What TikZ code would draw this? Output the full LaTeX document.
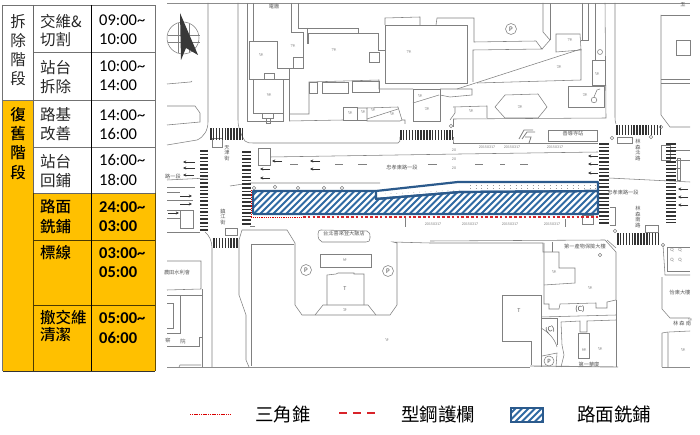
\documentclass[tikz,border=0pt]{standalone}
\usepackage{fontspec}
\setmainfont{Carlito}
\newfontfamily\cjk{Noto Sans CJK TC}
\newfontfamily\cjkm{Noto Sans CJK TC Medium}
\usetikzlibrary{arrows.meta}
\definecolor{orng}{HTML}{FFC000}
\definecolor{mapline}{HTML}{808080}
\definecolor{hatchblue}{HTML}{2F6AA3}
\definecolor{edgeblue}{HTML}{2B5A8C}
\definecolor{redline}{HTML}{D8232A}
\tikzset{
  ml/.style={draw=mapline,line width=.55pt},
  mt/.style={text=black!65,inner sep=0pt,font=\cjk\fontsize{5.2}{5.6}\selectfont},
  tn/.style={text=black!50,inner sep=0pt,font=\fontsize{4}{4}\selectfont},
  cjkcell/.style={anchor=west,inner sep=0pt,text=black!85,font=\cjk\fontsize{15.5}{15.5}\selectfont},
  cjkbold/.style={anchor=west,inner sep=0pt,font=\cjkm\fontsize{15.5}{15.5}\selectfont},
  stackcell/.style={inner sep=0pt,text=black!85,font=\cjk\fontsize{15.5}{15.5}\selectfont},
  stackbold/.style={inner sep=0pt,font=\cjkm\fontsize{15.5}{15.5}\selectfont},
  timecell/.style={anchor=west,inner sep=0pt,font=\fontsize{16.5}{16.5}\selectfont},
  timebold/.style={anchor=west,inner sep=0pt,font=\bfseries\fontsize{16.5}{16.5}\selectfont},
  legendtext/.style={inner sep=0pt,font=\cjk\fontsize{18.5}{18.5}\selectfont},
  larrow/.style={draw=black!80,line width=.7pt,-{Stealth[length=3.2pt,width=3pt]}},
}
\newcommand{\vbars}[4]{\draw[black!80,line width=#4-#3,dash pattern=on 1.5pt off 1.4pt] (#1,{(#3+#4)/2})--(#2,{(#3+#4)/2});}
\newcommand{\hbarsx}[4]{\draw[black!80,line width=#2-#1,dash pattern=on 1.7pt off 1.9pt] ({(#1+#2)/2},#3)--({(#1+#2)/2},#4);}
\begin{document}
\begin{tikzpicture}[x=1pt,y=-1pt]
\useasboundingbox (0,0) rectangle (700,435);
\fill[white] (0,0) rectangle (700,435);

%% ---------- table
\fill[orng] (2.5,100.5) rectangle (33,371);
\fill[orng] (33,193) rectangle (155,371);
\draw[black!55,line width=.8pt] (2.5,5)--(155,5)--(155,193);
\draw[black!55,line width=.8pt] (2.5,5)--(2.5,371);
\draw[black!55,line width=.8pt] (33,52)--(155,52);
\draw[black!55,line width=.8pt] (2.5,100.5)--(155,100.5);
\draw[black!55,line width=.8pt] (33,147)--(155,147);
\draw[black!60,line width=.8pt] (33,193)--(155,193);
\draw[black!60,line width=.8pt] (33,5)--(33,193);
\draw[black!70!orng,line width=.8pt] (33,193)--(33,371);
\draw[black!70!orng,line width=.8pt] (33,240)--(155,240);
\draw[black!70!orng,line width=.8pt] (33,305)--(155,305);
\draw[black,line width=.9pt] (91,5)--(91,371);
\draw[black!80,line width=.9pt] (2.5,371)--(155,371);
\draw[black!60!orng,line width=.6pt] (155,193)--(155,371);

\foreach \c/\y in {拆/22,除/41,階/60,段/79} \node[stackcell] at (18,\y) {\c};
\foreach \c/\y in {復/115,舊/134,階/153,段/173} \node[stackbold] at (18,\y) {\c};
\foreach \c/\y in {交維\&/22,切割/40,站台/68,拆除/87,路基/115,改善/134,站台/162,回鋪/181}
  \node[cjkcell] at (40,\y) {\c};
\foreach \c/\y in {路面/207,銑鋪/227,標線/253,撤交維/318,清潔/335}
  \node[cjkbold] at (40,\y) {\c};
\foreach \c/\y in {09:00\char`\~/20,10:00/39,10:00\char`\~/66,14:00/85,14:00\char`\~/115,16:00/134,16:00\char`\~/160,18:00/180}
  \node[timecell] at (99,\y) {\c};
\foreach \c/\y in {24:00\char`\~/207,03:00/226,03:00\char`\~/253,05:00/272,05:00\char`\~/318,06:00/338}
  \node[timebold] at (99,\y) {\c};

%% ---------- map frame lines
\draw[ml,line width=.9pt,draw=black!45] (167,3)--(690,3);
\draw[ml,line width=.9pt,draw=black!45] (167,367)--(530,367);
\draw[ml,line width=.9pt,draw=black!45] (530,366)--(618,367);
\draw[ml,line width=.9pt,draw=black!45] (662,367)--(690,367);

%% ---------- north arrow
\draw[ml] (183,38) circle (16);
\draw[ml] (168,35)--(200,35) (168,42)--(200,42) (178,23)--(178,53) (189,24)--(189,52);
\fill[black!78] (180,13)--(198,55)--(186,48)--(181,60)--cycle;

%% ---------- upper-left block
\draw[ml] (208,3)--(208,122) .. controls (208,130) and (204,137) .. (197,140)--(167,145);
\draw[ml] (167,84)--(190,82) (190,82)..controls (191,82) and (192,82)..(192,81);
\draw[ml] (167,106)--(195,106)--(200,113)--(200,122)--(167,125);
\draw[ml] (238,3)--(238,120) .. controls (238,128) and (241,135) .. (245,141) .. controls (247,143) and (250,143) .. (253,143)--(398,143);
\draw[ml] (398,143) .. controls (400,142) and (400,141) .. (400,137);
\draw[ml] (212,138) rectangle (222,147);

%% ---------- top blocks
\draw[ml] (249,41)--(277,41)--(277,68)--(289,68)--(289,79)--(249,79)--cycle;
\draw[ml] (264,73) rectangle (274,79);
\draw[ml] (253,3)--(253,41);
\draw[ml] (253,79)--(253,113)--(283,113)--(283,79);
\draw[ml] (262,113) rectangle (273,118);
\draw[ml] (266,118) rectangle (270,123);
\draw[ml] (247,3)--(247,121)--(283,121)--(283,113);
\draw[ml] (291,3)--(291,32)--(303,32)--(303,68)--(289,68);
\draw[ml] (298,3)--(298,28)--(358,28)--(358,33);
\draw[ml] (307,28)--(307,44);
\draw[ml] (308,44)--(308,33)--(378,33)--(378,50)--(385,50);
\draw[ml] (293,57) rectangle (303,68);
\draw[ml] (369,52) rectangle (379,62);
\draw[ml] (289,79)--(289,121);
\draw[ml] (289,114)--(309,114)--(309,82)--(379,80)--(379,89)--(413,89);
\draw[ml] (309,82) rectangle (317,93);
\draw[ml] (322,82) rectangle (348,93);
\draw[ml] (352,81) rectangle (379,92);
\draw[ml] (289,121)--(343,120);
\draw[ml] (343,107) rectangle (357,120);
\draw[ml] (357,108)--(367,108)--(367,121)--(400,121)--(402,120)--(405,120)--(405,124);
\draw[ml] (367,108)--(398,107)--(402,120);
\draw[ml] (367,119)--(398,109);
\draw[ml] (357,120)--(367,120);
\draw[ml] (385,25)--(467,25)--(467,83)--(385,83)--cycle;
\draw[ml] (385,25)--(385,18)--(420,17)--(420,25);
\draw[ml] (436,25)--(437,18)--(474,18)--(474,42)--(536,41)--(542,49)--(473,50)--(473,82);
\draw[ml] (542,49)--(550,40)--(543,32)--(543,3);
\draw[ml] (550,40)--(550,3);
\draw[ml] (511,29) circle (5.5);
\node[inner sep=0pt,font=\fontsize{7}{7}\selectfont,text=black!70] at (511,29) {P};
\draw[ml] (556,34)--(580,34)--(581,50)--(556,52)--cycle;
\draw[ml] (582,3)--(582,40);
\draw[ml] (581,40)--(588,40)--(588,3);
\draw[ml] (581,49)--(457,89);
\draw[ml] (581,49)--(581,80)--(477,83);
\draw[ml] (440,89)--(472,89)--(472,95)--(450,97)--(440,95);
\draw[ml] (595,3)--(595,60);
\draw[ml] (605,3)--(606,118)--(453,119);
\draw[ml] (592,60) rectangle (605,85);
\draw[ml] (568,86) rectangle (604,107);
\draw[ml] (600,52) circle (2.5);
\draw[ml] (594,100) circle (2.8);
\draw[ml] (594,97)--(597,90)--(600,89);
\draw[ml] (495,107)--(505,95)--(538,94)--(547,107)--(538,118)--(505,118)--cycle;
\draw[ml] (453,107)--(487,106)--(487,118);
\draw[ml] (450,120)--(455,113)--(455,107);
\draw[ml] (413,89) rectangle (440,121);
\draw[ml] (413,103)--(439,95);

%% station & main road
\draw[ml] (453,119)--(453,127);
\draw[ml] (548,130) rectangle (597,141);
\draw[ml] (453,143)--(598,143);
\draw[ml] (453,143)..controls (453,142) and (453,141)..(453,137);
\draw[ml,line width=.8pt] (519,139)--(524,130)--(533,130) (522,139)--(527,132)--(535,132) (525,137)--(531,137)--(529,143);
\draw[ml] (615,3)--(615,115)..controls (615,120) and (615,122)..(616,124);
\draw[ml] (661,15)--(661,115)--(670,127)--(690,127);
\draw[ml] (661,15)--(690,15);
\draw[ml] (661,79)--(690,79) (661,83)--(690,83);
\draw[ml] (676,40)--(690,40)--(690,55)--(676,55)--cycle;
\draw[ml] (270,157)--(460,154)--(598,152);
\draw[ml] (230,186)--(250,183)--(380,183);
\draw[ml] (167,180)--(208,178);
\draw[ml] (609,178)--(690,182);
\draw[ml] (258,148) rectangle (270,165);
\draw[ml] (617,137) rectangle (632,143);
\draw[ml] (645,225) rectangle (658,232);
\draw[ml] (610,207)--(615,207)--(615,225)--(610,225);
\draw[ml] (582,215) rectangle (593,224);
\draw[ml] (661,145) rectangle (670,160);
\draw[ml] (677,158) rectangle (680,180);
\draw[ml] (676,160)--(690,160) (676,168)--(680,168) (676,150)--(690,150);
\draw[ml] (405,218)--(405,227) (565,219)--(565,227);
\draw[ml] (255,226)--(250,226);
\draw[ml] (167,187)--(195,187) (167,192)--(180,192) (167,200)--(193,200);
\draw[ml] (180,210) rectangle (193,228);
\draw[ml] (167,210)--(180,210) (167,218)--(180,218);
\draw[ml] (167,232)--(200,232);
\draw[ml] (225,228) rectangle (237,235);
\draw[ml] (205,232)..controls (209,235) and (212,241)..(212,248)--(212,367);
\draw[ml] (242,230)--(287,230)--(295,243)--(295,305)--(302,315)--(390,315)--(397,305)--(397,243)--(393,242)--(430,243);
\draw[ml] (242,230)--(239,240)--(239,295)--(246,315)--(246,360)--(249,367);
\draw[ml] (251,244)--(294,244);
\draw[ml] (251,244)--(251,366);
\draw[ml] (318,234)..controls (318,231) and (319,230)..(321,230)--(367,231)..controls (370,232) and (370,234)..(370,238)..controls (370,241) and (369,242)..(366,242)--(322,242)..controls (319,241) and (318,238)..(318,234);
\draw[ml] (320,254) rectangle (371,267);
\draw[ml] (327,305)--(327,275)--(336,274)--(338,273)--(354,273)--(354,274)--(364,274)--(364,305);
\draw[ml] (315,315)--(323,305)--(368,305)--(376,315);
\draw[ml] (306,270) circle (5.5) (388,271) circle (5.5);
\node[inner sep=0pt,font=\fontsize{7}{7}\selectfont,text=black!70] at (306,270) {P};
\node[inner sep=0pt,font=\fontsize{7}{7}\selectfont,text=black!70] at (388,271) {P};
%% lower-left
\draw[ml] (167,261)--(201,261)--(201,289)--(167,290);
\draw[ml] (167,295)--(202,295);
\draw[ml] (202,289)--(202,367);
\draw[ml] (180,296)--(180,333)--(167,333);
\draw[ml] (167,303)--(173,303)--(173,328)--(167,328);
\draw[ml] (167,346)--(199,346)--(199,337)--(202,337);
\draw[ml] (179,367)--(180,365)--(201,365);
%% lower-right
\draw[ml] (430,243)--(543,243)--(543,252)--(559,252)--(559,268)--(575,268)--(575,283)--(544,285);
\draw[ml] (430,241)--(605,240)--(616,252);
\draw[ml] (607,240)--(616,248);
\draw[ml] (552,242)--(552,252);
\draw[ml] (616,252)--(616,300)--(607,302)--(607,308)--(596,308)--(596,303)--(560,304)--(559,309)--(549,309)--(549,304)--(544,304)--(544,243);
\draw[ml] (541,295)--(502,295)--(502,341)--(531,341)--(531,365);
\draw[ml] (541,295)--(541,367);
\draw[ml] (541,317)--(616,315);
\draw[ml] (616,300)--(616,367);
\draw[ml] (561,322)--(580,321)--(580,332)--(587,332)--(587,321)--(616,320);
\draw[ml] (561,322)--(562,345)--(564,355)--(561,367);
\draw[ml] (578,333) rectangle (589,358);
\draw[ml] (541,318)--(557,318)--(557,345);
\draw[ml] (541,328)..controls (550,333) and (555,340)..(557,347);
\draw[ml] (542,356)--(557,353)--(556,367);
\draw[ml] (549,361) circle (5);
\node[inner sep=0pt,font=\fontsize{6.5}{6.5}\selectfont,text=black!70] at (549,361) {P};
\node[inner sep=0pt,font=\fontsize{8}{8}\selectfont,text=black!70] at (580,309) {(C)};
\node[inner sep=0pt,rotate=20,font=\fontsize{8}{8}\selectfont,text=black!70] at (550,330) {(C)};
%% far right
\draw[ml] (663,245)--(665,275)--(690,275);
\draw[ml] (667,247)--(690,247) (667,247)--(667,271)--(690,271);
\draw[ml] (662,277)--(662,309)--(670,318)--(690,318);
\draw[ml] (662,333)--(668,332)--(668,367) (662,333)--(662,367);
\draw[ml] (669,332)--(690,331);

%% crosswalks
\vbars{210}{242}{128}{140}
\vbars{400}{453}{130}{140}
\vbars{616}{661}{125}{135}
\vbars{213}{238}{238}{248}
\vbars{617}{660}{233}{245}
\hbarsx{200}{208}{150}{232}
\hbarsx{242}{251}{151}{226}
\hbarsx{599}{609}{143}{225}
\hbarsx{666}{676}{143}{223}

%% traffic arrows
\foreach \xa/\xb/\yy in {282/272/161,320/310/161,320/310/169,270/260/169,270/260/178,598/588/156,598/588/164,598/588/173,688/678/189,688/678/197,688/678/205,195/183/162,195/183/168,194/183/175}
  \draw[larrow] (\xa,\yy)--(\xb,\yy);
\foreach \xa/\xb/\yy in {180/192/196,180/192/204,168/179/213}
  \draw[larrow] (\xa,\yy)--(\xb,\yy);
\foreach \xa/\xb in {290/298,335/343,358/367,428/437,475/483,500/505,520/528}
  \draw[mapline,line width=.6pt] (\xa,164)--(\xb,164);

%% circles along kerb
\foreach \xx/\yy in {254/188,275/187,298/188,324/188,342/188,612/138,600/255,651/137,615/231,451/126,661/127,663/245}
  \draw[ml] (\xx,\yy) circle (1.8);

%% map text
\node[mt] at (274,6) {電廠};
\node[mt] at (402,168) {忠孝東路一段};
\node[mt] at (623,193) {忠孝東路一段};
\node[mt] at (173,177) {路一段};
\node[mt,align=center] at (227,153) {天\\津\\街};
\node[mt,align=center] at (223,217) {鎮\\江\\街};
\node[mt,align=center] at (638,150) {林\\森\\北\\路};
\node[mt,align=center] at (638,217) {林\\森\\南\\路};
\node[mt] at (344,234) {台北喜來登大飯店};
\node[mt] at (585,247) {第一產物保險大樓};
\node[mt] at (573,134) {善導寺站};
\node[mt] at (177,273) {農田水利會};
\node[mt] at (168,341) {察};
\node[mt] at (183,341) {院};
\node[mt] at (589,364) {第一華廈};
\node[mt] at (680,293) {怡東大樓};
\node[mt] at (682,324) {林 森 南};
\node[mt] at (683,5) {五};
\node[mt] at (345,289) {T};
\node[mt] at (519,311) {T};
\foreach \xx/\yy/\t in {261/55/1R,293/46/7R,334/50/7R,409/52/7R,269/95/5R,350/113/1R,363/112/1R,373/110/1R,392/114/1R,420/96/1R,427/109/2R,570/40/7R,559/67/2R,597/74/1R,585/95/2R,520/107/2R,471/111/1R,345/260/6F,345/310/2F,387/340/1F,554/272/1R,590/288/1R,584/350/6R,600/349/1R,683/350/1R,690/320/1R}
  \node[tn,rotate=20] at (\xx,\yy) {\t};
\foreach \xx/\yy in {454/150,454/159,454/168}
  \node[tn] at (\xx,\yy) {20};
\foreach \xx in {487,512,555}
  \node[tn] at (\xx,147) {20150317};
\foreach \xx in {433,470,510,552}
  \node[tn] at (\xx,224) {20150317};
\foreach \xx/\yy in {672/250,680/250,672/260,680/260}
  \node[tn,font=\fontsize{5}{5}\selectfont] at (\xx,\yy) {Q};

%% ---------- work zone
\begin{scope}
  \clip (253,191)--(376,191)--(376,199)--(460,192)--(598,191)--(598,214)--(253,214)--cycle;
  \foreach \x in {230,236.5,...,600}
    \draw[hatchblue,line width=2.1pt] (\x,218)--(\x+30,188);
\end{scope}
\foreach \yy in {185,188} \draw[black!40,line width=.5pt,dash pattern=on .7pt off 5pt] (470,\yy)--(597,\yy);
\draw[black!40,line width=.5pt,dash pattern=on .7pt off 5pt] (385,194)--(460,190);
\draw[edgeblue,line width=2.2pt,line join=round] (376,191)--(458,182)--(598,182)--(598,191)--(460,192)--(376,199)--cycle;
\draw[edgeblue,line width=2.2pt,line join=round] (253,214)--(253,191)--(376,191) (376,199)--(460,192)--(598,191)--(598,214)--(253,214);

%% red barriers
\draw[red!85!black,line width=.9pt,dash pattern=on 1.2pt off 1pt] (251,190)--(251,217)--(303,217);
\draw[redline,line width=2pt,dash pattern=on 2.6pt off 2.2pt] (303,217.5)--(598,217.5);

%% ---------- legend
\draw[red!85!black,line width=.9pt,dash pattern=on 1.2pt off .6pt] (190,414)--(231,414);
\node[legendtext] at (283,414) {三角錐};
\draw[redline,line width=2.2pt,dash pattern=on 8pt off 6pt] (339,413)--(376,413);
\node[legendtext] at (438,414) {型鋼護欄};
\begin{scope}
  \clip (511,408) rectangle (543,422);
  \foreach \x in {500,506.5,...,545}
    \draw[hatchblue,line width=2.1pt] (\x,424)--(\x+18,406);
\end{scope}
\draw[edgeblue,line width=1.8pt] (511,408) rectangle (543,422);
\node[legendtext] at (614,414) {路面銑鋪};
\end{tikzpicture}
\end{document}
